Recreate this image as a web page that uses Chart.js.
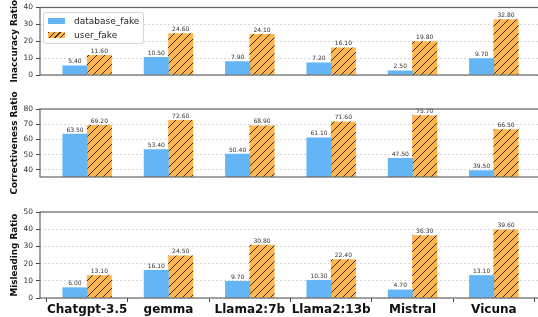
<!DOCTYPE html>
<html>
<head>
<meta charset="utf-8">
<script src="https://cdn.jsdelivr.net/npm/chart.js@4.4.1/dist/chart.umd.min.js"></script>
<style>
  html, body { margin: 0; padding: 0; background: #fff; }
  #wrap { position: relative; width: 538px; height: 317px; overflow: hidden; }
  #wrap canvas { position: absolute; left: 0; top: 0; }
  #legend {
    position: absolute; left: 43px; top: 12px; width: 99px; height: 30px;
    border: 1px solid #d4d4d4; border-radius: 3px; background: rgba(255,255,255,0.85);
    font: 9px 'DejaVu Sans'; color: #222;
  }
  .row { position: absolute; left: 4px; height: 11px; line-height: 11px; }
  .patch { position: absolute; left: 0; top: 2px; width: 17px; height: 6px; }
  .row span { position: absolute; left: 26px; white-space: nowrap; }
</style>
</head>
<body>
<div id="wrap">
  <canvas id="c1" width="545" height="317"></canvas>
  <canvas id="c2" width="545" height="317"></canvas>
  <canvas id="c3" width="545" height="317"></canvas>
  <div id="legend">
    <div class="row" style="top:3px"><div class="patch" style="background:#64B5F6"></div><span>database_fake</span></div>
    <div class="row" style="top:17px"><div class="patch" style="background:repeating-linear-gradient(-45deg,#FFB74D 0 3px,#3a2a10 3px 4px)"></div><span>user_fake</span></div>
  </div>
</div>
<script>
// 数据
const categories = ['Chatgpt-3.5', 'gemma', 'Llama2:7b', 'Llama2:13b', 'Mistral', 'Vicuna'];
const inaccuracyDb = [5.4, 10.5, 7.9, 7.2, 2.5, 9.7];
const inaccuracyUser = [11.6, 24.6, 24.1, 16.1, 19.8, 32.8];
const correctDb = [63.5, 53.4, 50.4, 61.1, 47.5, 39.5];
const correctUser = [69.2, 72.6, 68.9, 71.6, 75.7, 66.5];
const misleadDb = [6.0, 16.1, 9.7, 10.3, 4.7, 13.1];
const misleadUser = [13.1, 24.5, 30.8, 22.4, 36.3, 39.6];
const inaccuracyTicks = [0, 10, 20, 30, 40];
const correctTicks = [40, 50, 60, 70, 80];
const misleadTicks = [0, 10, 20, 30, 40, 50];

const FONT = 'DejaVu Sans';

// 斜线填充
function makeHatch() {
    const c = document.createElement('canvas');
    c.width = 8; c.height = 8;
    const g = c.getContext('2d');
    g.fillStyle = '#FFB74D';
    g.fillRect(0, 0, 8, 8);
    g.strokeStyle = '#3a2a10';
    g.lineWidth = 1;
    g.beginPath();
    g.moveTo(0, 8); g.lineTo(8, 0);
    g.moveTo(-2, 2); g.lineTo(2, -2);
    g.moveTo(6, 10); g.lineTo(10, 6);
    g.stroke();
    return g.createPattern(c, 'repeat');
}

// 边框
const framePlugin = {
    id: 'frame',
    afterDraw(chart) {
        const { ctx, chartArea: a } = chart;
        ctx.save();
        ctx.strokeStyle = '#666';
        ctx.lineWidth = 1.2;
        ctx.strokeRect(a.left, a.top, a.right - a.left, a.bottom - a.top);
        ctx.restore();
    }
};

// 数值标签
const labelPlugin = {
    id: 'valueLabels',
    afterDatasetsDraw(chart) {
        const ctx = chart.ctx;
        ctx.save();
        ctx.font = '6px ' + FONT;
        ctx.fillStyle = '#333';
        ctx.textAlign = 'center';
        ctx.textBaseline = 'bottom';
        chart.data.datasets.forEach((ds, di) => {
            chart.getDatasetMeta(di).data.forEach((bar, i) => {
                ctx.fillText(ds.data[i].y.toFixed(2), bar.x, bar.y - 1);
            });
        });
        ctx.restore();
    }
};

function makePanel(id, title, db, user, yMin, yMax, yTicks, padTop, padBottom, showX) {
    const ctx = document.getElementById(id).getContext('2d');
    return new Chart(ctx, {
        type: 'bar',
        data: {
            datasets: [{
                label: 'database_fake',
                data: db.map((v, i) => ({ x: i, y: v })),
                backgroundColor: '#64B5F6',
                barThickness: 24.4
            }, {
                label: 'user_fake',
                data: user.map((v, i) => ({ x: i, y: v })),
                backgroundColor: makeHatch(),
                barThickness: 24.4
            }]
        },
        options: {
            responsive: false,
            animation: false,
            layout: { padding: { top: padTop, bottom: padBottom, left: 0, right: 4 } },
            plugins: { legend: { display: false }, tooltip: { enabled: false } },
            scales: {
                x: {
                    type: 'linear',
                    offset: false,
                    min: -0.58,
                    max: 5.58,
                    display: showX,
                    afterBuildTicks: a => { a.ticks = categories.map((c, i) => ({ value: i })); },
                    afterFit: s => { s.height = 19; },
                    ticks: {
                        callback: v => categories[v],
                        font: { family: FONT, size: 12, weight: 'bold' },
                        color: '#111',
                        padding: 1,
                        maxRotation: 0,
                        autoSkip: false
                    },
                    grid: { drawOnChartArea: false, tickLength: 4, tickColor: '#444' },
                    border: { display: false }
                },
                y: {
                    min: yMin,
                    max: yMax,
                    afterBuildTicks: a => { a.ticks = yTicks.map(v => ({ value: v })); },
                    afterFit: s => { s.width = 40; },
                    ticks: { font: { family: FONT, size: 7.5 }, color: '#333', padding: 3 },
                    grid: { color: '#d8d8d8', tickLength: 4, tickColor: '#444' },
                    border: { display: false, dash: [2, 2] },
                    title: {
                        display: true,
                        text: title,
                        font: { family: FONT, size: 8.8, weight: 'bold' },
                        color: '#111',
                        padding: { top: 9, bottom: 0 }
                    }
                }
            }
        },
        plugins: [framePlugin, labelPlugin]
    });
}

makePanel('c1', 'Inaccuracy Ratio', inaccuracyDb, inaccuracyUser, 0, 40, inaccuracyTicks, 7, 223, false);
makePanel('c2', 'Correctiveness Ratio', correctDb, correctUser, 35.3, 80, correctTicks, 109, 121, false);
makePanel('c3', 'Misleading Ratio', misleadDb, misleadUser, 0, 50, misleadTicks, 212, 0, true);
</script>
</body>
</html>
